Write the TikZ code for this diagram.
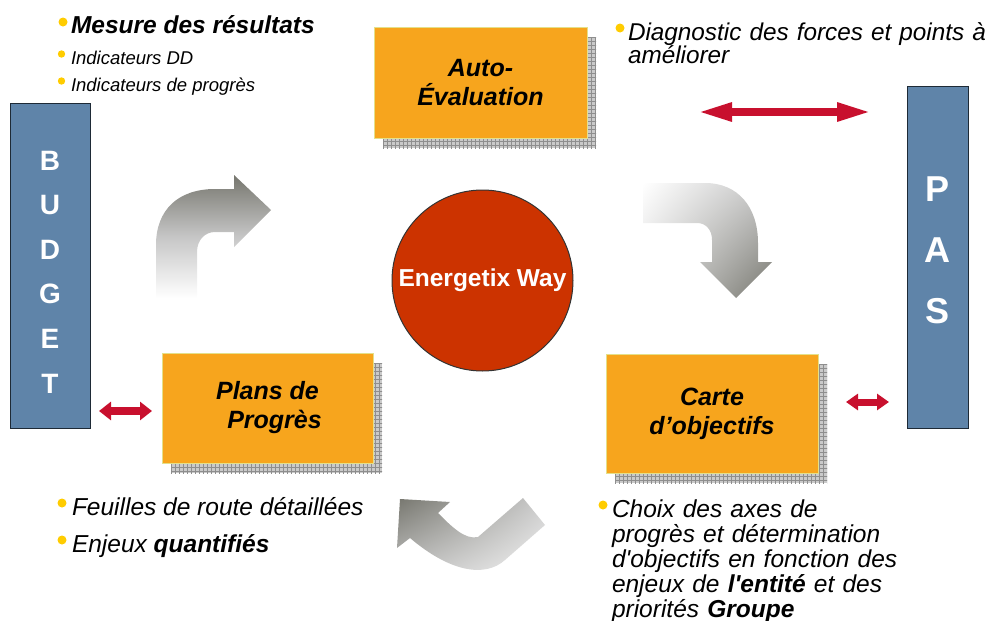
\documentclass[tikz,border=0pt]{standalone}
\usepackage{fontspec}
\setmainfont{Liberation Sans}
\usetikzlibrary{arrows.meta,backgrounds,shadings}
\definecolor{boxorange}{HTML}{F7A51D}
\definecolor{boxedge}{HTML}{E4E08A}
\definecolor{shadowgray}{HTML}{CACACA}
\definecolor{gridgray}{HTML}{8E8E8E}
\definecolor{sideblue}{HTML}{5F84A9}
\definecolor{sideedge}{HTML}{1E2A36}
\definecolor{circred}{HTML}{CC3300}
\definecolor{arrowred}{HTML}{C8102E}
\definecolor{bulletyellow}{HTML}{FFCC00}
\definecolor{arrowgray}{RGB}{118,118,110}
\newcommand\myfs[2]{\fontsize{#1}{#2}\selectfont}
\begin{document}
\begin{tikzpicture}[x=1pt,y=-1pt,
  every node/.style={inner sep=0pt, outer sep=0pt},
  orangebox/.style={draw=boxedge, line width=0.8pt, fill=boxorange, align=center, font=\myfs{25}{29}\bfseries\itshape},
  sidebox/.style={draw=sideedge, line width=1pt, fill=sideblue},
  sideletters/.style={text=white, align=center, text width=50pt},
  bodytext/.style={font=\myfs{24.5}{25}\itshape, align=left},
  smalltext/.style={font=\myfs{18.5}{20}\itshape},
  bulletdot/.style={fill=bulletyellow},
  gridline/.style={draw=gridgray, line width=0.5pt},
  redbig/.style={arrowred, line width=8pt, {Triangle[length=35pt,width=17pt]}-{Triangle[length=35pt,width=17pt]}},
  redsmall/.style={arrowred, line width=8pt, {Triangle[length=12pt,width=18pt]}-{Triangle[length=12pt,width=18pt]}},
  redsmaller/.style={arrowred, line width=7pt, {Triangle[length=12pt,width=16pt]}-{Triangle[length=12pt,width=16pt]}}
]
\useasboundingbox (0,0) rectangle (989,621);

% side boxes
\node[sidebox, minimum width=80pt, minimum height=325pt] (budget) at (50,265.5) {};
\node[sideletters, font=\myfs{28}{44.6}\bfseries, anchor=base] (budgettxt) at (50,170) {B\\U\\D\\G\\E\\T};
\node[sidebox, minimum width=61pt, minimum height=342pt] (pas) at (937.5,257) {};
\node[sideletters, font=\myfs{36}{61}\bfseries, anchor=base] (pastxt) at (937.5,201.5) {P\\A\\S};

% orange boxes
\node[orangebox, minimum width=213pt, minimum height=111pt] (auto) at (480.5,82.5) {Auto-\\Évaluation};
\node[orangebox, minimum width=211pt, minimum height=110pt] (plans) at (267.5,408) {Plans de\\\hspace*{14pt}Progrès};
\node[orangebox, minimum width=212pt, minimum height=119pt] (carte) at (712,413.5) {Carte\\d’objectifs};

% hatched shadows behind the orange boxes
\begin{scope}[on background layer]
  \foreach \n in {auto,plans,carte} {
    \begin{scope}
      \clip ([shift={(9,10)}]\n.north west) rectangle ([shift={(9,10)}]\n.south east);
      \fill[shadowgray] ([shift={(9,10)}]\n.north west) rectangle ([shift={(9,10)}]\n.south east);
      \foreach \i in {0,...,56} {
        \draw[gridline] ([shift={({9+\i*4},10)}]\n.north west) -- ++(0,130);
      }
      \foreach \i in {0,...,32} {
        \draw[gridline] ([shift={(9,{10+\i*4})}]\n.north west) -- ++(230,0);
      }
    \end{scope}
  }
\end{scope}

% centre circle
\node[circle, fill=circred, draw=black!80, line width=1pt, minimum size=181pt, text=white, font=\myfs{24.5}{28}\bfseries] (ew) at (482.5,280.5) {Energetix Way};

% grey curved arrows
\shade[top color=arrowgray, bottom color=white, middle color=gray!45]
  (156,298) -- (156,245) .. controls (156,210) and (178,189) .. (215,189) -- (234,189) -- (234,175)
  -- (271,210) -- (234,247) -- (234,232) -- (215,232) .. controls (205,232) and (197,240) .. (197,252)
  -- (197,298) -- cycle;
\shade[upper left=white, upper right=gray!45, lower left=gray!30, lower right=arrowgray]
  (643,183) -- (705,183) .. controls (738,183) and (758,207) .. (758,243) -- (758,262) -- (772,262)
  -- (736,298) -- (700,262) -- (712,262) -- (712,240) .. controls (712,230) and (706,223) .. (697,223)
  -- (643,223) -- cycle;
\shade[upper left=arrowgray, upper right=gray!40, lower left=gray!45, lower right=gray!8]
  (400,499) -- (450,502) -- (438,513) .. controls (452,527) and (465,540) .. (478,537) -- (523,498)
  -- (545,525) -- (505,560) .. controls (485,578) and (450,572) .. (410,538) -- (397,548) -- cycle;

% red double arrows
\coordinate (dl) at (697,112);
\coordinate (dr) at (872,112);
\coordinate (bl) at (99,411);
\coordinate (br) at (152,411);
\coordinate (pl) at (846,402);
\coordinate (pr) at (889,402);
\draw[redbig] (dl) -- (dr);
\draw[redsmall] (bl) -- (br);
\draw[redsmaller] (pl) -- (pr);

% texts
\fill[bulletdot] (63,22) circle (4.5);
\fill[bulletdot] (61.5,54) circle (3.7);
\fill[bulletdot] (61.5,81) circle (3.7);
\node[bodytext, anchor=base west] (mesure) at (71,33) {\bfseries Mesure des résultats};
\node[smalltext, anchor=base west] (inddd) at (71,64) {Indicateurs DD};
\node[smalltext, anchor=base west] (indprog) at (71,91) {Indicateurs de progrès};

\fill[bulletdot] (620,28) circle (4.5);
\node[bodytext, font=\myfs{24.3}{23}\itshape, text width=400pt, anchor=base west] (diag) at (628,40) {Diagnostic des forces et points à\\améliorer};

\fill[bulletdot] (62,503) circle (4.5);
\fill[bulletdot] (62,540) circle (4.5);
\node[bodytext, anchor=base west] (feuilles) at (72,515) {Feuilles de route détaillées};
\node[bodytext, anchor=base west] (enjeux) at (72,552) {Enjeux \textbf{quantifiés}};

\fill[bulletdot] (603,505) circle (4.5);
\node[bodytext, text width=360pt, anchor=base west] (choix) at (612,517) {Choix des axes de\\progrès et détermination\\d\textquotesingle objectifs en fonction des\\enjeux de \textbf{l\textquotesingle entité} et des\\priorités \textbf{Groupe}};
\end{tikzpicture}
\end{document}
